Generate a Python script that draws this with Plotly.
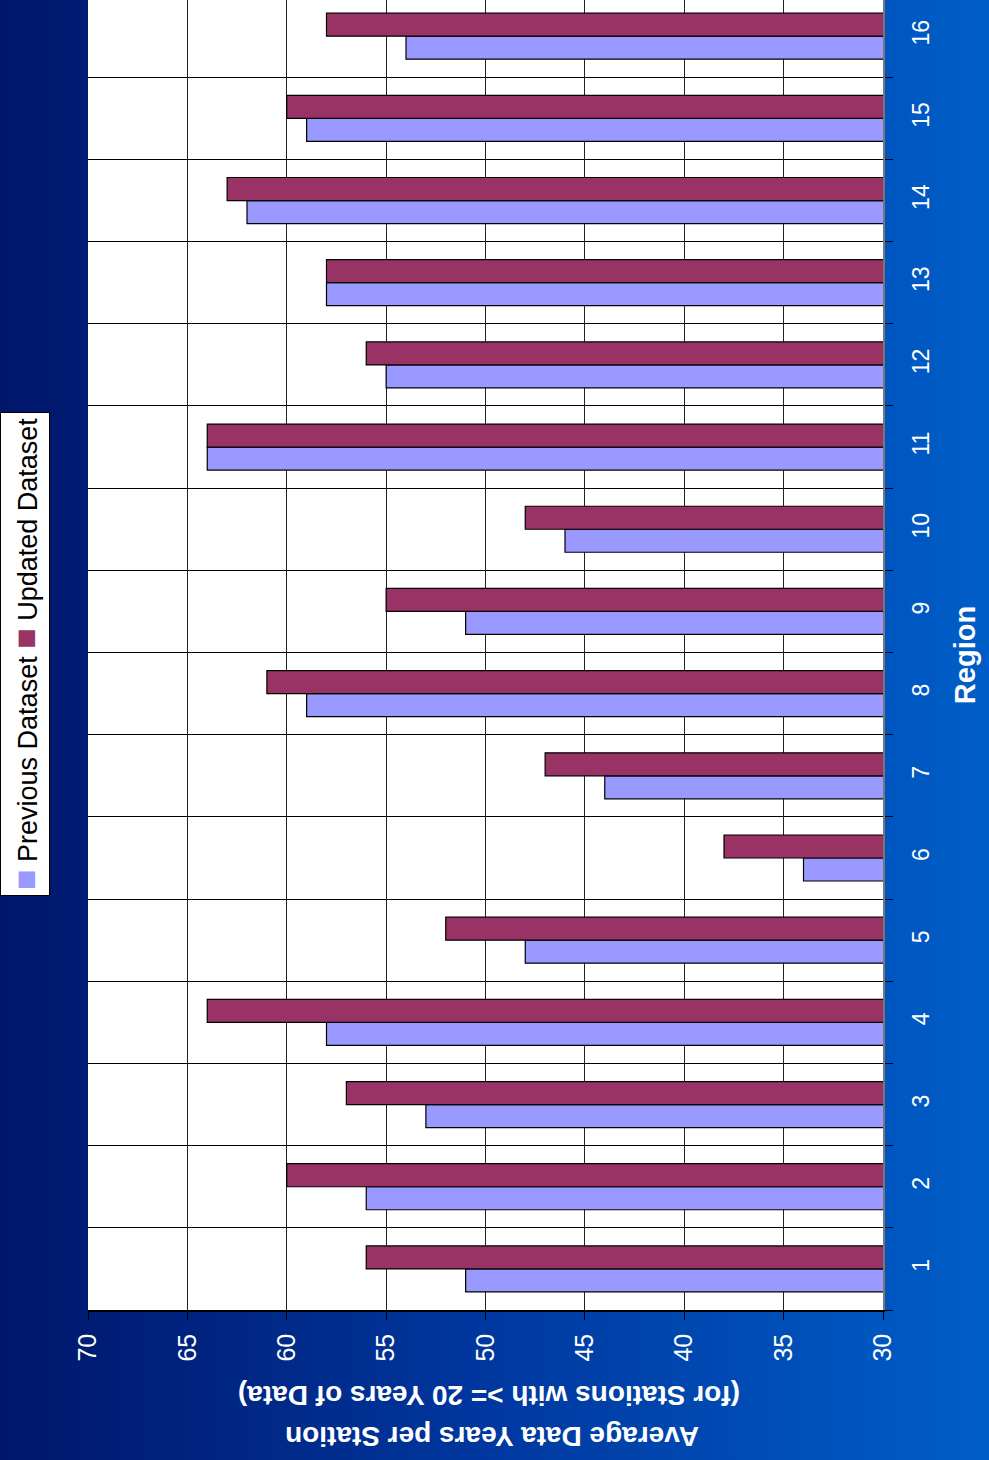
import base64
import plotly.graph_objects as go

regions = [str(i) for i in range(1, 17)]
previous = [51, 56, 53, 58, 48, 34, 44, 59, 51, 46, 64, 55, 58, 62, 59, 54]
updated = [56, 60, 57, 64, 52, 38, 47, 61, 55, 48, 64, 56, 58, 63, 60, 58]
value_ticks = [30, 35, 40, 45, 50, 55, 60, 65, 70]

W, H = 989, 1460
L, R, T, B = 88, 106, 0, 150
pw, ph = W - L - R, H - T - B

svg = f'''<svg xmlns="http://www.w3.org/2000/svg" width="{W}" height="{H}" viewBox="0 0 {W} {H}" preserveAspectRatio="none">
<defs><linearGradient id="g" x1="0" y1="0" x2="1" y2="0">
<stop offset="0" stop-color="#00166a"/><stop offset="0.5" stop-color="#0038a0"/><stop offset="1" stop-color="#005ec8"/>
</linearGradient></defs><rect width="{W}" height="{H}" fill="url(#g)"/></svg>'''
uri = "data:image/svg+xml;base64," + base64.b64encode(svg.encode()).decode()

ypos = list(range(1, 17))

fig = go.Figure()
fig.add_trace(go.Bar(y=ypos, x=previous, orientation="h", name="Previous Dataset",
                     marker=dict(color="#9999ff", line=dict(color="#000000", width=1.2))))
fig.add_trace(go.Bar(y=ypos, x=updated, orientation="h", name="Updated Dataset",
                     marker=dict(color="#993366", line=dict(color="#000000", width=1.2))))

font = "Liberation Sans, Arial, sans-serif"

fig.update_layout(
    width=W, height=H,
    margin=dict(l=L, r=R, t=T, b=B, pad=0),
    paper_bgcolor="#003a9c",
    plot_bgcolor="white",
    barmode="group", bargap=0.44, bargroupgap=0,
    showlegend=False,
    font=dict(family=font, color="white"),
    images=[dict(source=uri, xref="paper", yref="paper",
                 x=-L / pw, y=1 + T / ph, sizex=W / pw, sizey=H / ph,
                 xanchor="left", yanchor="top", sizing="stretch", layer="below")],
    shapes=[dict(type="rect", xref="paper", yref="paper", x0=0, x1=1, y0=0, y1=1,
                 fillcolor="white", line=dict(width=0), layer="below")],
    xaxis=dict(
        range=[70, 30], tickvals=value_ticks, ticktext=[str(v) for v in value_ticks],
        tickangle=-90, tickfont=dict(size=25, color="white", family=font),
        ticks="outside", ticklen=8, tickcolor="black", tickwidth=1,
        showgrid=True, gridcolor="#222222", gridwidth=1,
        showline=True, linecolor="black", linewidth=1.5,
        zeroline=False, ticklabelstandoff=4,
    ),
    yaxis=dict(
        range=[0.5, 16.44], tickvals=ypos, ticktext=regions, side="right",
        tickangle=-90, tickfont=dict(size=23, color="white", family=font),
        ticks="", showgrid=False,
        minor=dict(tickvals=[i + 0.5 for i in range(16)], ticks="outside", ticklen=8,
                   tickcolor="black", showgrid=True, gridcolor="black", gridwidth=1),
        showline=True, linecolor="#777777", linewidth=2,
        zeroline=False, ticklabelstandoff=16,
        title=dict(text="<b>Region</b>", font=dict(size=29, color="white", family=font),
                   standoff=22),
    ),
)

annotations = [
    dict(text="<b>(for Stations with >= 20 Years of Data)</b>", xref="paper", yref="paper",
         x=(489 - L) / pw, y=(ph - 1396 + T) / ph, xanchor="center", yanchor="middle",
         textangle=180, showarrow=False, font=dict(size=28, color="white", family=font)),
    dict(text="<b>Average Data Years per Station</b>", xref="paper", yref="paper",
         x=(492 - L) / pw, y=(ph - 1437 + T) / ph, xanchor="center", yanchor="middle",
         textangle=180, showarrow=False, font=dict(size=28, color="white", family=font)),
    dict(text='<span style="color:#9999ff;font-size:34px">■</span> Previous Dataset '
              '<span style="color:#993366;font-size:34px">■</span> Updated Dataset',
         xref="paper", yref="paper",
         x=(25 - L) / pw, y=(ph - 654 + T) / ph, xanchor="center", yanchor="middle",
         textangle=-90, showarrow=False, bgcolor="white", bordercolor="black", borderwidth=1,
         borderpad=5, font=dict(size=27, color="black", family=font)),
]
fig.update_layout(annotations=annotations)

fig.write_html("out.html")
